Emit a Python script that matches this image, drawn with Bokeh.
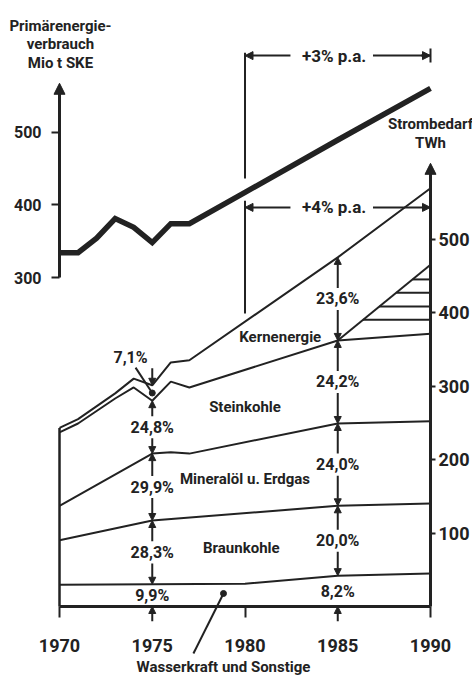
import numpy as np
from bokeh.plotting import figure
from bokeh.models import (Range1d, LinearAxis, FixedTicker, Arrow, NormalHead, TeeHead,
                          Label, LabelSet, ColumnDataSource)
from bokeh.core.properties import value
from bokeh.embed import file_html
from bokeh.resources import INLINE

# ---------------- data ----------------
year_ticks = [1970, 1975, 1980, 1985, 1990]
year_tick_marks = [1970, 1980, 1990]

# Primärenergieverbrauch, Mio t SKE
pe_years = [1970, 1971, 1972, 1973, 1974, 1975, 1976, 1977, 1980, 1985, 1990]
pe_values = [334, 334, 354, 381, 369, 348, 374, 374, 417, 489, 560]
pe_ticks = [300, 400, 500]

# Strombedarf, TWh -- upper boundary of each stacked band
total_years = [1970, 1971, 1973, 1974, 1975, 1976, 1977, 1985, 1990]
total_twh = [243, 255, 290, 310, 301, 332, 335, 475, 569]        # top of Kernenergie
stein_years = [1970, 1971, 1973, 1974, 1975, 1976, 1977, 1985, 1990]
stein_twh = [237, 249, 283, 298, 280, 306, 298, 362, 371]        # top of Steinkohle
mineral_years = [1970, 1975, 1976, 1977, 1985, 1990]
mineral_twh = [137, 208, 210, 208, 249, 252]                      # top of Mineralöl u. Erdgas
braun_years = [1970, 1975, 1985, 1990]
braun_twh = [90, 117, 137, 140]                                   # top of Braunkohle
wasser_years = [1970, 1980, 1985, 1990]
wasser_twh = [29.5, 31, 42, 45]                                   # top of Wasserkraft und Sonstige
kern_high_years = [1985, 1990]
kern_high_twh = [362, 465]
hatch_levels = [390, 408, 427, 445]
twh_ticks = [100, 200, 300, 400, 500]

share_years = [1975, 1985]
shares_1975 = ["9,9%", "28,3%", "29,9%", "24,8%", "7,1%"]
shares_1985 = ["8,2%", "20,0%", "24,0%", "24,2%", "23,6%"]
band_labels = ["Braunkohle", "Mineralöl u. Erdgas", "Steinkohle", "Kernenergie"]
wasser_label = "Wasserkraft und Sonstige"

pe_title = ["Primärenergie-", "verbrauch", "Mio t SKE"]
el_title = ["Strombedarf", "TWh"]
growth_pe = "+3% p.a."
growth_el = "+4% p.a."
growth_from, growth_to = 1980, 1990

# ---------------- style / layout ----------------
INK = "#222222"
FONT = "Roboto"

p = figure(width=472, height=677, x_range=Range1d(1966.819, 1992.264),
           y_range=Range1d(-249.83, 680.76),
           output_backend="svg", toolbar_location=None,
           x_axis_location=None, y_axis_location=None,
           min_border_left=0, min_border_right=0, min_border_top=0, min_border_bottom=0)
p.extra_y_ranges = {"twh": Range1d(-96.6, 824.5)}
p.xgrid.visible = False
p.ygrid.visible = False
p.outline_line_color = None
p.background_fill_color = "white"
p.border_fill_color = "white"


def style_axis(ax, size):
    ax.axis_line_color = INK
    ax.axis_line_width = 3
    ax.major_tick_line_color = INK
    ax.major_tick_line_width = 2
    ax.major_tick_in = 0
    ax.minor_tick_line_color = None
    ax.major_label_text_font = FONT
    ax.major_label_text_font_style = "bold"
    ax.major_label_text_font_size = f"{size}px"
    ax.major_label_text_color = INK


yl = LinearAxis(fixed_location=1970, ticker=FixedTicker(ticks=pe_ticks), bounds=(300, 556))
style_axis(yl, 16)
yl.major_tick_out = 8
yl.major_label_standoff = 10
p.add_layout(yl, "left")

xb = LinearAxis(y_range_name="twh", fixed_location=0, bounds=(1970, 1990),
                ticker=FixedTicker(ticks=year_ticks, minor_ticks=year_tick_marks))
style_axis(xb, 18)
xb.major_tick_out = 0
xb.major_tick_line_color = None
xb.minor_tick_line_color = INK
xb.minor_tick_line_width = 2
xb.minor_tick_in = 0
xb.minor_tick_out = 11
xb.major_label_standoff = 22
p.add_layout(xb, "below")

yr = LinearAxis(y_range_name="twh", fixed_location=1990, ticker=FixedTicker(ticks=twh_ticks),
                bounds=(0, 590))
style_axis(yr, 18)
yr.major_tick_out = 5
yr.major_label_standoff = 3
p.add_layout(yr, "right")


def head(s):
    return NormalHead(size=s, fill_color=INK, line_color=INK, line_width=1)


# axis arrow tips
p.add_layout(Arrow(x_start=1970, y_start=540, x_end=1970, y_end=567, end=head(11),
                   line_color=INK, line_width=3))
p.add_layout(Arrow(x_start=1990, y_start=580, x_end=1990, y_end=603, end=head(11),
                   line_color=INK, line_width=3, y_range_name="twh"))

# primary energy line
p.line(pe_years, pe_values, line_width=5.5, color=INK, line_join="miter")

# electricity band boundaries
for xs, ys in [(total_years, total_twh), (stein_years, stein_twh), (mineral_years, mineral_twh),
               (braun_years, braun_twh), (wasser_years, wasser_twh), (kern_high_years, kern_high_twh)]:
    p.line(xs, ys, y_range_name="twh", line_width=2, color=INK)
p.segment(x0=[1970], y0=[0], x1=[1970], y1=[total_twh[0]], y_range_name="twh",
          line_width=2.5, color=INK)

# hatching between Steinkohle top and upper Kernenergie variant
hx0 = np.interp(hatch_levels, kern_high_twh, kern_high_years)
p.segment(x0=hx0, y0=hatch_levels, x1=[growth_to] * len(hatch_levels), y1=hatch_levels,
          y_range_name="twh", line_width=2, color=INK)

# growth brackets
pe_1980 = float(np.interp(growth_from, pe_years, pe_values))
el_1980 = float(np.interp(growth_from, total_years, total_twh))
p.segment(x0=[growth_from], y0=[pe_1980 + 19], x1=[growth_from], y1=[609], line_width=2, color=INK)
p.segment(x0=[growth_from], y0=[el_1980 + 11], x1=[growth_from], y1=[552], y_range_name="twh",
          line_width=2, color=INK)
mid = (growth_from + growth_to) / 2 - 0.2
for yv, rng, txt in [(605, "default", growth_pe), (543, "twh", growth_el)]:
    p.add_layout(Arrow(x_start=mid - 2.35, y_start=yv, x_end=growth_from, y_end=yv, end=head(8),
                       line_color=INK, line_width=2, y_range_name=rng))
    p.add_layout(Arrow(x_start=mid + 2.1, y_start=yv, x_end=growth_to, y_end=yv, end=head(8),
                       line_color=INK, line_width=2, y_range_name=rng))
    p.add_layout(Label(x=mid, y=yv, text=txt, text_align="center", text_baseline="middle",
                       text_font=FONT, text_font_style="bold", text_font_size="17px",
                       text_color=INK, y_range_name=rng))
p.add_layout(Arrow(x_start=growth_to - 0.5, y_start=605, x_end=growth_to, y_end=605,
                   end=TeeHead(size=14, line_color=INK, line_width=2), line_color=INK, line_width=2))

# share labels and arrows
bounds_lines = [(wasser_years, wasser_twh), (braun_years, braun_twh), (mineral_years, mineral_twh),
                (stein_years, stein_twh), (total_years, total_twh)]
lab = dict(x=[], y=[], text=[])
arr = dict(xs=[], ys=[], xe=[], ye=[])
GAP = 15
for yr_, shares in zip(share_years, [shares_1975, shares_1985]):
    b = [0.0] + [float(np.interp(yr_, xs, ys)) for xs, ys in bounds_lines]
    for i, txt in enumerate(shares):
        lo, hi = b[i], b[i + 1]
        if yr_ == 1975 and i == 4:
            # narrow Kernenergie band: label outside with leader
            lab["x"].append(1973.83); lab["y"].append(339); lab["text"].append(txt)
            arr["xs"].append(yr_); arr["ys"].append(hi + 23); arr["xe"].append(yr_); arr["ye"].append(hi)
            dot_y = (lo + hi) / 2
            p.segment(x0=[1974.1], y0=[325], x1=[yr_], y1=[dot_y], y_range_name="twh",
                      line_width=2, color=INK)
            p.scatter([yr_], [dot_y], size=6, color=INK, y_range_name="twh")
            continue
        m = (lo + hi) / 2
        lab["x"].append(yr_); lab["y"].append(m); lab["text"].append(txt)
        if i == 0:
            arr["xs"].append(yr_); arr["ys"].append(-20); arr["xe"].append(yr_); arr["ye"].append(0)
        else:
            arr["xs"] += [yr_, yr_]; arr["ys"] += [m + GAP, m - GAP]
            arr["xe"] += [yr_, yr_]; arr["ye"] += [hi, lo]

p.add_layout(Arrow(x_start="xs", y_start="ys", x_end="xe", y_end="ye", source=ColumnDataSource(arr),
                   end=head(7), line_color=INK, line_width=2, y_range_name="twh"))
p.add_layout(LabelSet(x="x", y="y", text="text", source=ColumnDataSource(lab), y_range_name="twh",
                      text_align="center", text_baseline="middle", text_font=value(FONT),
                      text_font_style="bold", text_font_size="16px", text_color=INK))

# band names
band_pos = [(1979.8, 79), (1980.0, 173), (1980.0, 271), (1981.9, 366)]
for txt, (bx, by) in zip(band_labels, band_pos):
    p.add_layout(Label(x=bx, y=by, text=txt, y_range_name="twh", text_align="center",
                       text_baseline="middle", text_font=FONT, text_font_style="bold",
                       text_font_size="15px", text_color=INK))

# Wasserkraft callout
p.scatter([1978.84], [17.7], size=6, color=INK, y_range_name="twh")
p.segment(x0=[1978.84], y0=[17.7], x1=[1977.22], y1=[-64], y_range_name="twh",
          line_width=2, color=INK)
p.add_layout(Label(x=1978.84, y=-82, text=wasser_label, y_range_name="twh", text_align="center",
                   text_baseline="middle", text_font=FONT, text_font_style="bold",
                   text_font_size="15px", text_color=INK))

# axis titles
for txt, ty in zip(pe_title, [646, 621.6, 595.5]):
    p.add_layout(Label(x=1970.05, y=ty, text=txt, text_align="center", text_baseline="middle",
                       text_font=FONT, text_font_style="bold", text_font_size="15px", text_color=INK))
for txt, ty in zip(el_title, [657, 630]):
    p.add_layout(Label(x=1990, y=ty, text=txt, y_range_name="twh", text_align="center",
                       text_baseline="middle", text_font=FONT, text_font_style="bold",
                       text_font_size="15px", text_color=INK))

open("out.html", "w").write(file_html(p, INLINE))
